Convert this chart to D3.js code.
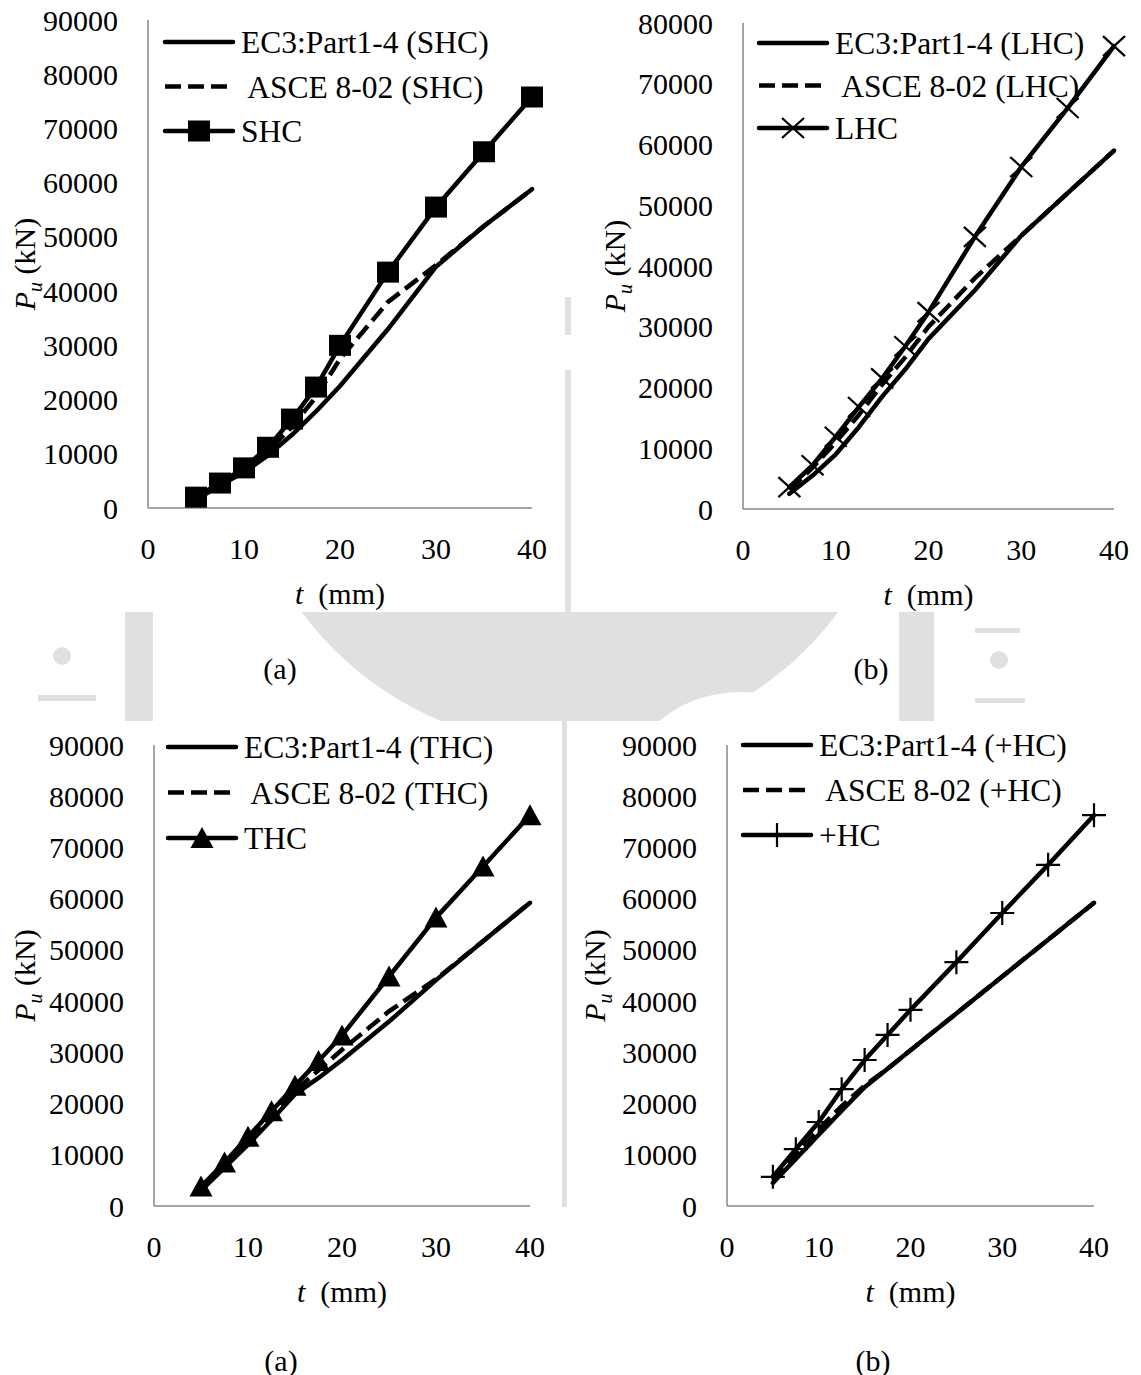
<!DOCTYPE html>
<html>
<head>
<meta charset="utf-8">
<script src="https://cdn.jsdelivr.net/npm/d3@7"></script>
<style>
  html, body { margin: 0; padding: 0; background: #fff; }
  svg { display: block; font-family: "Liberation Serif", "Times New Roman", serif; }
  text { white-space: pre; }
</style>
</head>
<body>
<div id="chart"></div>
<script>
// wall thickness t (mm), same for every series
const thickness = [5, 7.5, 10, 12.5, 15, 17.5, 20, 25, 30, 35, 40];

// square hollow column
const ec3SHC  = [1500, 4200, 6600, 9700, 13500, 17800, 22500, 33000, 44500, 52000, 58800];
const asceSHC = [2000, 4500, 7200, 10500, 15000, 20500, 27500, 38000, 44800, 52000, 58800];
const testSHC = [2000, 4600, 7400, 11200, 16400, 22300, 30000, 43500, 55500, 65700, 75800];

// L-shaped hollow column
const ec3LHC  = [2500, 5500, 9000, 13500, 18500, 23000, 28000, 36000, 45000, 52000, 59000];
const asceLHC = [3200, 6800, 11000, 15500, 20500, 25000, 30000, 38000, 45000, 52000, 59000];
const testLHC = [3600, 7200, 11900, 16800, 21500, 26800, 32400, 44800, 56300, 66000, 76200];

// T-shaped hollow column
const ec3THC  = [3000, 7500, 12000, 16800, 21800, 25000, 28500, 36000, 44100, 51700, 59200];
const asceTHC = [3500, 8000, 12800, 17800, 22500, 26500, 30500, 38000, 44300, 51700, 59200];
const testTHC = [3800, 8500, 13500, 18500, 23500, 28300, 33300, 44800, 56300, 66300, 76300];

// cross-shaped hollow column
const ec3PHC  = [4500, 9200, 13900, 18600, 23200, 26800, 30400, 37600, 44800, 52000, 59200];
const ascePHC = [5000, 10000, 15000, 19500, 23500, 26800, 30400, 37600, 44800, 52000, 59200];
const testPHC = [5700, 11100, 16400, 22800, 28500, 33400, 38300, 47600, 57200, 66600, 76300];

// axis ticks
const xTicks = [0, 10, 20, 30, 40];
const yTicks90 = [0, 10000, 20000, 30000, 40000, 50000, 60000, 70000, 80000, 90000];
const yTicks80 = [0, 10000, 20000, 30000, 40000, 50000, 60000, 70000, 80000];

const width = 1141;
const height = 1375;

// layout of the four panels (pixel frame of each plot area)
const panels = [
    { key: "SHC", caption: "(a)", ec3: ec3SHC, asce: asceSHC, test: testSHC, marker: "square",
      yTicks: yTicks90, left: 148, right: 532, bottom: 508, top: 20,
      legendX: 165, legendY: 42, legendGap: 44.5, yTitleX: 24, captionX: 280, captionY: 668 },
    { key: "LHC", caption: "(b)", ec3: ec3LHC, asce: asceLHC, test: testLHC, marker: "times",
      yTicks: yTicks80, left: 743, right: 1114, bottom: 509, top: 23,
      legendX: 759, legendY: 43, legendGap: 42.5, yTitleX: 614, captionX: 871, captionY: 668 },
    { key: "THC", caption: "(a)", ec3: ec3THC, asce: asceTHC, test: testTHC, marker: "triangle",
      yTicks: yTicks90, left: 154, right: 530, bottom: 1206, top: 745,
      legendX: 168, legendY: 747, legendGap: 45.5, yTitleX: 24, captionX: 281, captionY: 1360 },
    { key: "+HC", caption: "(b)", ec3: ec3PHC, asce: ascePHC, test: testPHC, marker: "plus",
      yTicks: yTicks90, left: 727, right: 1094, bottom: 1206, top: 745,
      legendX: 743, legendY: 745, legendGap: 45, yTitleX: 594, captionX: 873, captionY: 1360 }
];

const svg = d3.select("#chart").append("svg")
    .attr("width", width)
    .attr("height", height)
    .attr("viewBox", `0 0 ${width} ${height}`);

svg.append("rect").attr("width", width).attr("height", height).attr("fill", "#fff");

// faint logo watermark showing between the pasted panels
const wmGrey = "#e0e0e0";
svg.append("defs").append("clipPath").attr("id", "band")
    .append("rect").attr("x", 0).attr("y", 612).attr("width", width).attr("height", 109);

const wm = svg.append("g").attr("clip-path", "url(#band)");
wm.append("circle").attr("cx", 570).attr("cy", 413).attr("r", 334).attr("fill", wmGrey);
wm.append("ellipse").attr("cx", 742).attr("cy", 772).attr("rx", 107).attr("ry", 80).attr("fill", "#fff");
wm.append("rect").attr("x", 125).attr("y", 600).attr("width", 28).attr("height", 130).attr("fill", wmGrey);
wm.append("rect").attr("x", 899).attr("y", 600).attr("width", 35).attr("height", 130).attr("fill", wmGrey);
wm.append("circle").attr("cx", 62).attr("cy", 656).attr("r", 9).attr("fill", wmGrey);
wm.append("rect").attr("x", 38).attr("y", 695).attr("width", 58).attr("height", 6).attr("fill", wmGrey);
wm.append("circle").attr("cx", 999).attr("cy", 660).attr("r", 9).attr("fill", wmGrey);
wm.append("rect").attr("x", 975).attr("y", 628).attr("width", 45).attr("height", 5).attr("fill", wmGrey);
wm.append("rect").attr("x", 975).attr("y", 698).attr("width", 50).attr("height", 5).attr("fill", wmGrey);

svg.append("rect").attr("x", 565).attr("y", 297).attr("width", 6).attr("height", 38).attr("fill", wmGrey);
svg.append("rect").attr("x", 565).attr("y", 370).attr("width", 6).attr("height", 242).attr("fill", wmGrey);
svg.append("rect").attr("x", 562).attr("y", 721).attr("width", 5).attr("height", 486).attr("fill", wmGrey);

// marker shapes, centred on the point
function markerPath(type) {
    if (type === "square") return "M-11,-10.5H11V10.5H-11Z";
    if (type === "triangle") return "M0,-11L11.5,10L-11.5,10Z";
    if (type === "times") return "M-11,-10L11,10M-11,10L11,-10";
    return "M-12,0H12M0,-12V12";
}

function drawMarker(g, type, x, y) {
    const filled = type === "square" || type === "triangle";
    g.append("path")
        .attr("transform", `translate(${x},${y})`)
        .attr("d", markerPath(type))
        .attr("fill", filled ? "#000" : "none")
        .attr("stroke", "#000")
        .attr("stroke-width", filled ? 0 : 2.2);
}

panels.forEach(p => {
    const x = d3.scaleLinear().domain([0, 40]).range([p.left, p.right]);
    const y = d3.scaleLinear().domain([0, d3.max(p.yTicks)]).range([p.bottom, p.top]);
    const g = svg.append("g");

    // axis lines only, no tick marks
    g.append("line")
        .attr("x1", x(0)).attr("x2", x(0))
        .attr("y1", y(0)).attr("y2", y(d3.max(p.yTicks)))
        .attr("stroke", "#878787").attr("stroke-width", 1.5);
    g.append("line")
        .attr("x1", x(0)).attr("x2", x(40))
        .attr("y1", y(0)).attr("y2", y(0))
        .attr("stroke", "#878787").attr("stroke-width", 1.5);

    g.selectAll(".ytick")
        .data(p.yTicks)
        .enter().append("text")
        .attr("x", x(0) - 30)
        .attr("y", d => y(d))
        .attr("dy", ".35em")
        .attr("text-anchor", "end")
        .attr("font-size", 30)
        .text(d => d);

    g.selectAll(".xtick")
        .data(xTicks)
        .enter().append("text")
        .attr("x", d => x(d))
        .attr("y", y(0) + 40)
        .attr("dy", ".35em")
        .attr("text-anchor", "middle")
        .attr("font-size", 30)
        .text(d => d);

    // axis titles
    const xt = g.append("text")
        .attr("x", (p.left + p.right) / 2)
        .attr("y", y(0) + 85)
        .attr("dy", ".35em")
        .attr("text-anchor", "middle")
        .attr("font-size", 30);
    xt.append("tspan").attr("font-style", "italic").text("t");
    xt.append("tspan").text("  (mm)");

    const yt = g.append("text")
        .attr("transform", `translate(${p.yTitleX},${(p.top + p.bottom) / 2}) rotate(-90)`)
        .attr("dy", ".35em")
        .attr("text-anchor", "middle")
        .attr("font-size", 30);
    yt.append("tspan").attr("font-style", "italic").text("P");
    yt.append("tspan").attr("font-style", "italic").attr("font-size", 20).attr("dy", 7).text("u");
    yt.append("tspan").attr("dy", -7).text(" (kN)");

    g.append("text")
        .attr("x", p.captionX)
        .attr("y", p.captionY)
        .attr("dy", ".35em")
        .attr("text-anchor", "middle")
        .attr("font-size", 30)
        .text(p.caption);

    // series: EC3 first, ASCE dashed over it, test curve with markers on top
    const line = d3.line()
        .x((d, i) => x(thickness[i]))
        .y(d => y(d));

    g.append("path")
        .attr("d", line(p.ec3))
        .attr("fill", "none").attr("stroke", "#000").attr("stroke-width", 4.5)
        .attr("stroke-linejoin", "round").attr("stroke-linecap", "round");
    g.append("path")
        .attr("d", line(p.asce))
        .attr("fill", "none").attr("stroke", "#000").attr("stroke-width", 4.5)
        .attr("stroke-dasharray", "16 7");
    g.append("path")
        .attr("d", line(p.test))
        .attr("fill", "none").attr("stroke", "#000").attr("stroke-width", 4.5)
        .attr("stroke-linejoin", "round").attr("stroke-linecap", "round");
    p.test.forEach((v, i) => drawMarker(g, p.marker, x(thickness[i]), y(v)));

    // legend
    const labels = [`EC3:Part1-4 (${p.key})`, ` ASCE 8-02 (${p.key})`, p.key];
    labels.forEach((lab, i) => {
        const ly = p.legendY + i * p.legendGap;
        g.append("line")
            .attr("x1", p.legendX).attr("x2", p.legendX + 68)
            .attr("y1", ly).attr("y2", ly)
            .attr("stroke", "#000").attr("stroke-width", 4.5)
            .attr("stroke-linecap", i === 1 ? "butt" : "round")
            .attr("stroke-dasharray", i === 1 ? "16 7" : null);
        if (i === 2) drawMarker(g, p.marker, p.legendX + 34, ly);
        g.append("text")
            .attr("x", p.legendX + 76)
            .attr("y", ly)
            .attr("dy", ".35em")
            .attr("font-size", 31.5)
            .text(lab);
    });
});
</script>
</body>
</html>
